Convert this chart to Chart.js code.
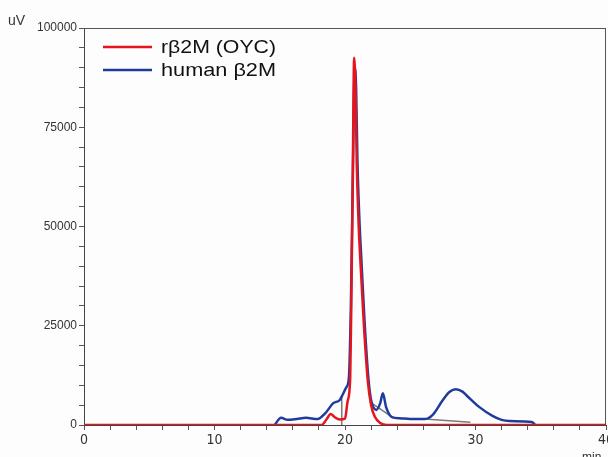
<!DOCTYPE html>
<html>
<head>
<meta charset="utf-8">
<script src="https://cdn.jsdelivr.net/npm/chart.js@4"></script>
<style>
html,body{margin:0;padding:0;background:#fdfdfd;}
#wrap{width:608px;height:457px;position:relative;}
</style>
</head>
<body>
<div id="wrap"><canvas id="c" width="608" height="457"></canvas></div>
<script>
// ---- data ----
const seriesLabels = ['rβ2M (OYC)', 'human β2M'];
const seriesColors = ['#e3161e', '#1f3c9c'];

const redTime   = [0, 14, 18.2, 18.6, 18.9, 19.2, 19.6, 20.0, 20.2, 20.4, 20.5, 20.6, 20.7, 20.8, 20.9, 21.05, 21.2, 21.45, 21.75, 22.0, 22.3, 22.7, 23.2, 40];
const redSignal = [0, 0, 0, 1500, 2800, 2000, 1400, 1600, 6000, 12000, 35000, 65000, 92500, 85000, 66000, 50000, 40000, 25000, 11000, 5000, 2000, 500, 0, 0];

const blueTime   = [14.6, 15.1, 15.6, 16.3, 17.0, 17.9, 18.5, 19.1, 19.6, 19.8, 20.1, 20.3, 20.45, 20.6, 20.75, 20.85, 20.95, 21.1, 21.25, 21.5, 21.8, 22.0, 22.4, 22.7, 22.9, 23.15, 23.6, 24.2, 25.0, 26.1, 26.7, 27.5, 28.0, 28.5, 29.0, 29.3, 30.3, 31.3, 32.0, 32.6, 34.3, 34.6];
const blueSignal = [0, 1800, 1300, 1500, 1800, 1500, 3000, 5500, 6300, 7500, 9500, 12000, 30000, 62000, 90000, 85000, 67000, 52000, 42000, 26000, 11500, 6300, 3800, 5500, 8000, 4500, 2000, 1700, 1500, 1500, 2500, 6300, 8300, 9000, 8400, 7500, 4500, 2300, 1300, 1000, 750, 0];

// integration baseline / drop-line marks (grey)
const markTime   = [19.75, 19.75, null, 21.9, 23.7, null, 26.1, 29.6];
const markSignal = [0, 7300, null, 5800, 1800, null, 1500, 700];

const xMin = 0, xMax = 40, xStep = 2, xLabelEvery = 10;
const yMin = 0, yMax = 100000, yStep = 5000, yLabelEvery = 25000;
const yUnit = 'uV', xUnit = 'min';

function toPoints(t, v) {
  const out = [];
  t.forEach((x, i) => out.push(x === null ? { x: NaN, y: NaN } : { x: x, y: v[i] }));
  return out;
}

const frame = {
  id: 'frame',
  beforeDatasetsDraw(chart) {
    const { ctx, chartArea: a } = chart;
    ctx.save();
    ctx.strokeStyle = '#555';
    ctx.lineWidth = 1;
    ctx.beginPath();
    ctx.moveTo(a.left, a.top + 0.5);
    ctx.lineTo(a.right, a.top + 0.5);
    ctx.moveTo(a.right - 0.5, a.top);
    ctx.lineTo(a.right - 0.5, a.bottom);
    ctx.stroke();
    ctx.restore();
  },
  afterDraw(chart) {
    const { ctx } = chart;
    ctx.save();
    // legend
    [0, 1].forEach((i, k) => {
      const y = 47 + k * 23;
      ctx.strokeStyle = seriesColors[i];
      ctx.lineWidth = 2.5;
      ctx.beginPath();
      ctx.moveTo(103, y);
      ctx.lineTo(152, y);
      ctx.stroke();
      ctx.fillStyle = '#111';
      ctx.font = '18px "Liberation Sans", Arial, sans-serif';
      ctx.textBaseline = 'middle';
      ctx.textAlign = 'left';
      const w = ctx.measureText(seriesLabels[i]).width;
      ctx.save();
      ctx.translate(161, y + 1);
      ctx.scale(115 / w, 1);
      ctx.fillText(seriesLabels[i], 0, 0);
      ctx.restore();
    });
    // units
    ctx.fillStyle = '#333';
    ctx.textBaseline = 'alphabetic';
    ctx.textAlign = 'left';
    ctx.font = '14px "Liberation Sans", Arial, sans-serif';
    ctx.fillText(yUnit, 8, 25);
    ctx.font = '12px "Liberation Sans", Arial, sans-serif';
    ctx.fillText(xUnit, 582, 461);
    ctx.restore();
  }
};

new Chart(document.getElementById('c'), {
  type: 'line',
  data: {
    datasets: [
      {
        label: seriesLabels[0],
        data: toPoints(redTime, redSignal),
        borderColor: seriesColors[0],
        borderWidth: 2.5,
        pointRadius: 0,
        fill: false,
        cubicInterpolationMode: 'monotone'
      },
      {
        label: seriesLabels[1],
        data: toPoints(blueTime, blueSignal),
        borderColor: seriesColors[1],
        borderWidth: 2.5,
        pointRadius: 0,
        fill: false,
        cubicInterpolationMode: 'monotone'
      },
      {
        label: 'baseline',
        data: toPoints(markTime, markSignal),
        borderColor: '#7a7a7a',
        borderWidth: 1.5,
        pointRadius: 0,
        fill: false,
        spanGaps: false
      }
    ]
  },
  options: {
    responsive: false,
    animation: false,
    layout: { padding: { top: 28, right: 2, left: 0, bottom: 0 } },
    plugins: { legend: { display: false }, tooltip: { enabled: false } },
    scales: {
      x: {
        type: 'linear',
        min: xMin, max: xMax,
        afterFit(s) { s.height = 32; s.paddingRight = 0; s.paddingLeft = 0; },
        ticks: {
          stepSize: xStep,
          autoSkip: false,
          maxRotation: 0,
          padding: 2,
          color: '#333',
          font: { family: '"Liberation Sans Narrow", "DejaVu Sans Condensed", sans-serif', size: 14 },
          callback: (v) => (v % xLabelEvery === 0 ? String(v) : '')
        },
        grid: { drawOnChartArea: false, drawTicks: true, tickLength: 5, color: '#555' },
        border: { display: true, color: '#444', width: 1 }
      },
      y: {
        type: 'linear',
        min: yMin, max: yMax,
        afterFit(s) { s.width = 84; s.paddingTop = 0; s.paddingBottom = 0; },
        ticks: {
          stepSize: yStep,
          autoSkip: false,
          padding: 2,
          color: '#333',
          font: { family: '"Liberation Sans", Arial, sans-serif', size: 12 },
          callback: (v) => (v % yLabelEvery === 0 ? String(v) : '')
        },
        grid: { drawOnChartArea: false, drawTicks: true, tickLength: 5, color: '#555' },
        border: { display: true, color: '#444', width: 1 }
      }
    }
  },
  plugins: [frame]
});
</script>
</body>
</html>
